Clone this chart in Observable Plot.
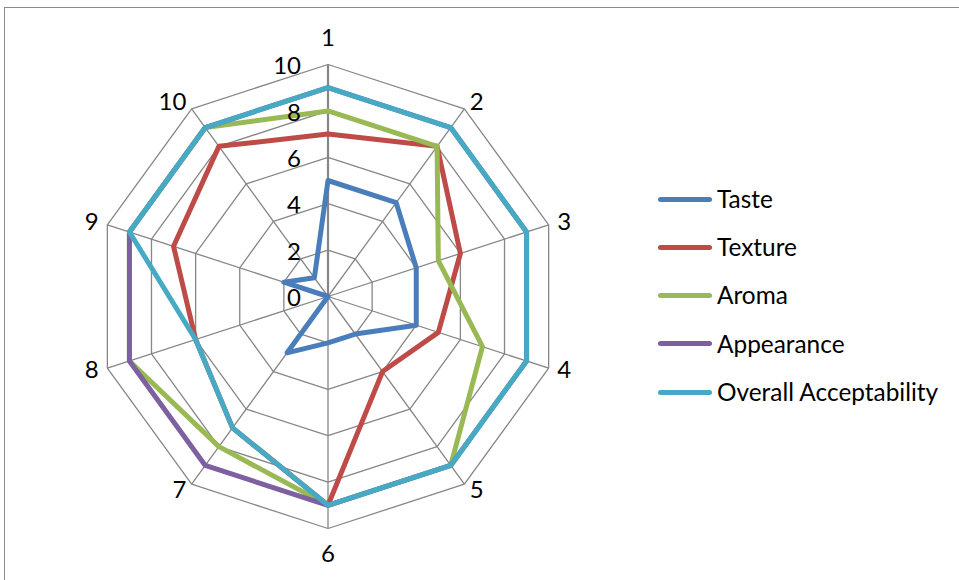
<!DOCTYPE html>
<html>
<head>
<meta charset="utf-8">
<script src="https://cdn.jsdelivr.net/npm/d3@7"></script>
<script src="https://cdn.jsdelivr.net/npm/@observablehq/plot@0.6"></script>
<style>
  html, body { margin: 0; padding: 0; background: #fff; overflow: hidden; width: 959px; height: 580px; }
  #wrap { position: relative; width: 959px; height: 580px; font-family: Lato, "Noto Sans", sans-serif; color: #000; }
  #frame { position: absolute; left: 4px; top: 7px; width: 1100px; height: 1100px; border: 1.3px solid #8a8a8a; pointer-events: none; }
  #chart { position: absolute; left: 0; top: 0; }
  #legend { position: absolute; left: 658px; top: 175px; }
  .row { display: flex; align-items: center; height: 48.25px; font-size: 24.4px; line-height: 1; }
  .sw { width: 54px; height: 4.8px; border-radius: 3px; margin-right: 5px; }
</style>
</head>
<body>
<div id="wrap">
  <div id="frame"></div>
  <div id="chart"></div>
  <div id="legend"></div>
</div>
<script>
const axes = ["1", "2", "3", "4", "5", "6", "7", "8", "9", "10"];
const taste = [5, 5, 4, 4, 2, 2, 3, 0, 2, 1];
const texture = [7, 8, 6, 5, 4, 9, 7, 6, 7, 8];
const aroma = [8, 8, 5, 7, 9, 9, 8, 9, 9, 9];
const appearance = [9, 9, 9, 9, 9, 9, 9, 9, 9, 9];
const overall = [9, 9, 9, 9, 9, 9, 7, 6, 9, 9];
const seriesNames = ["Taste", "Texture", "Aroma", "Appearance", "Overall Acceptability"];
const seriesColors = ["#4A7EBB", "#BE4B48", "#98B954", "#7D60A0", "#46AAC5"];
const radialTicks = [0, 2, 4, 6, 8, 10];
const ringTicks = [2, 4, 6, 8, 10];
const maxValue = 10;

const W = 959, H = 580;
const cx = 327.5, cy = 296, k = 23.2; // px per unit
const n = axes.length;
const ang = i => (i * 2 * Math.PI) / n;
const px = (r, i) => r * Math.sin(ang(i));
const py = (r, i) => r * Math.cos(ang(i));

const seriesValues = [taste, texture, aroma, appearance, overall];

const ringPts = [];
for (const t of ringTicks) for (let i = 0; i <= n; i++) ringPts.push({ t, x: px(t, i % n), y: py(t, i % n) });

const spokes = axes.map((a, i) => ({ a, i, x2: px(maxValue, i), y2: py(maxValue, i) }));

const linePts = [];
seriesValues.forEach((vals, s) => {
  for (let i = 0; i <= n; i++) linePts.push({ series: seriesNames[s], x: px(vals[i % n], i % n), y: py(vals[i % n], i % n) });
});

const labels = axes.map((a, i) => {
  const sx = Math.sin(ang(i)), sy = Math.cos(ang(i));
  let side, ox, oy;
  if (Math.abs(sx) < 0.1) { side = "mid"; ox = 0; oy = 26 * sy; }
  else if (sx > 0) { side = "right"; ox = 9 * sx; oy = 8 * sy; }
  else { side = "left"; ox = 9 * sx; oy = 8 * sy; }
  return { a, side, x: maxValue * sx + ox / k, y: maxValue * sy + oy / k };
});

const chart = Plot.plot({
  width: W, height: H, margin: 0,
  x: { domain: [-cx / k, (W - cx) / k], axis: null },
  y: { domain: [-(H - cy) / k, cy / k], axis: null },
  color: { domain: seriesNames, range: seriesColors },
  style: { fontFamily: "Lato, 'Noto Sans', sans-serif", fontSize: "24px", background: "transparent", color: "#000", overflow: "visible" },
  marks: [
    Plot.line(ringPts, { x: "x", y: "y", z: "t", stroke: "#868686", strokeWidth: 1.3 }),
    Plot.link(spokes, { x1: 0, y1: 0, x2: "x2", y2: "y2", stroke: "#868686", strokeWidth: d => d.i === 0 ? 2.2 : 1.3 }),
    Plot.line(linePts, { x: "x", y: "y", z: "series", stroke: "series", strokeWidth: 5, strokeLinejoin: "round", strokeLinecap: "round" }),
    Plot.text(labels.filter(d => d.side === "mid"), { x: "x", y: "y", text: "a", textAnchor: "middle", fill: "#000", fontSize: 24 }),
    Plot.text(labels.filter(d => d.side === "right"), { x: "x", y: "y", text: "a", textAnchor: "start", fill: "#000", fontSize: 24 }),
    Plot.text(labels.filter(d => d.side === "left"), { x: "x", y: "y", text: "a", textAnchor: "end", fill: "#000", fontSize: 24 }),
    Plot.text(radialTicks, { x: -27 / k, y: d => d, text: d => String(d), textAnchor: "end", dy: 2, fill: "#000", fontSize: 24 })
  ]
});
document.getElementById("chart").appendChild(chart);

const legend = document.getElementById("legend");
seriesNames.forEach((name, i) => {
  const row = document.createElement("div");
  row.className = "row";
  const sw = document.createElement("div");
  sw.className = "sw";
  sw.style.background = seriesColors[i];
  const tx = document.createElement("span");
  tx.textContent = name;
  row.appendChild(sw);
  row.appendChild(tx);
  legend.appendChild(row);
});
</script>
</body>
</html>
